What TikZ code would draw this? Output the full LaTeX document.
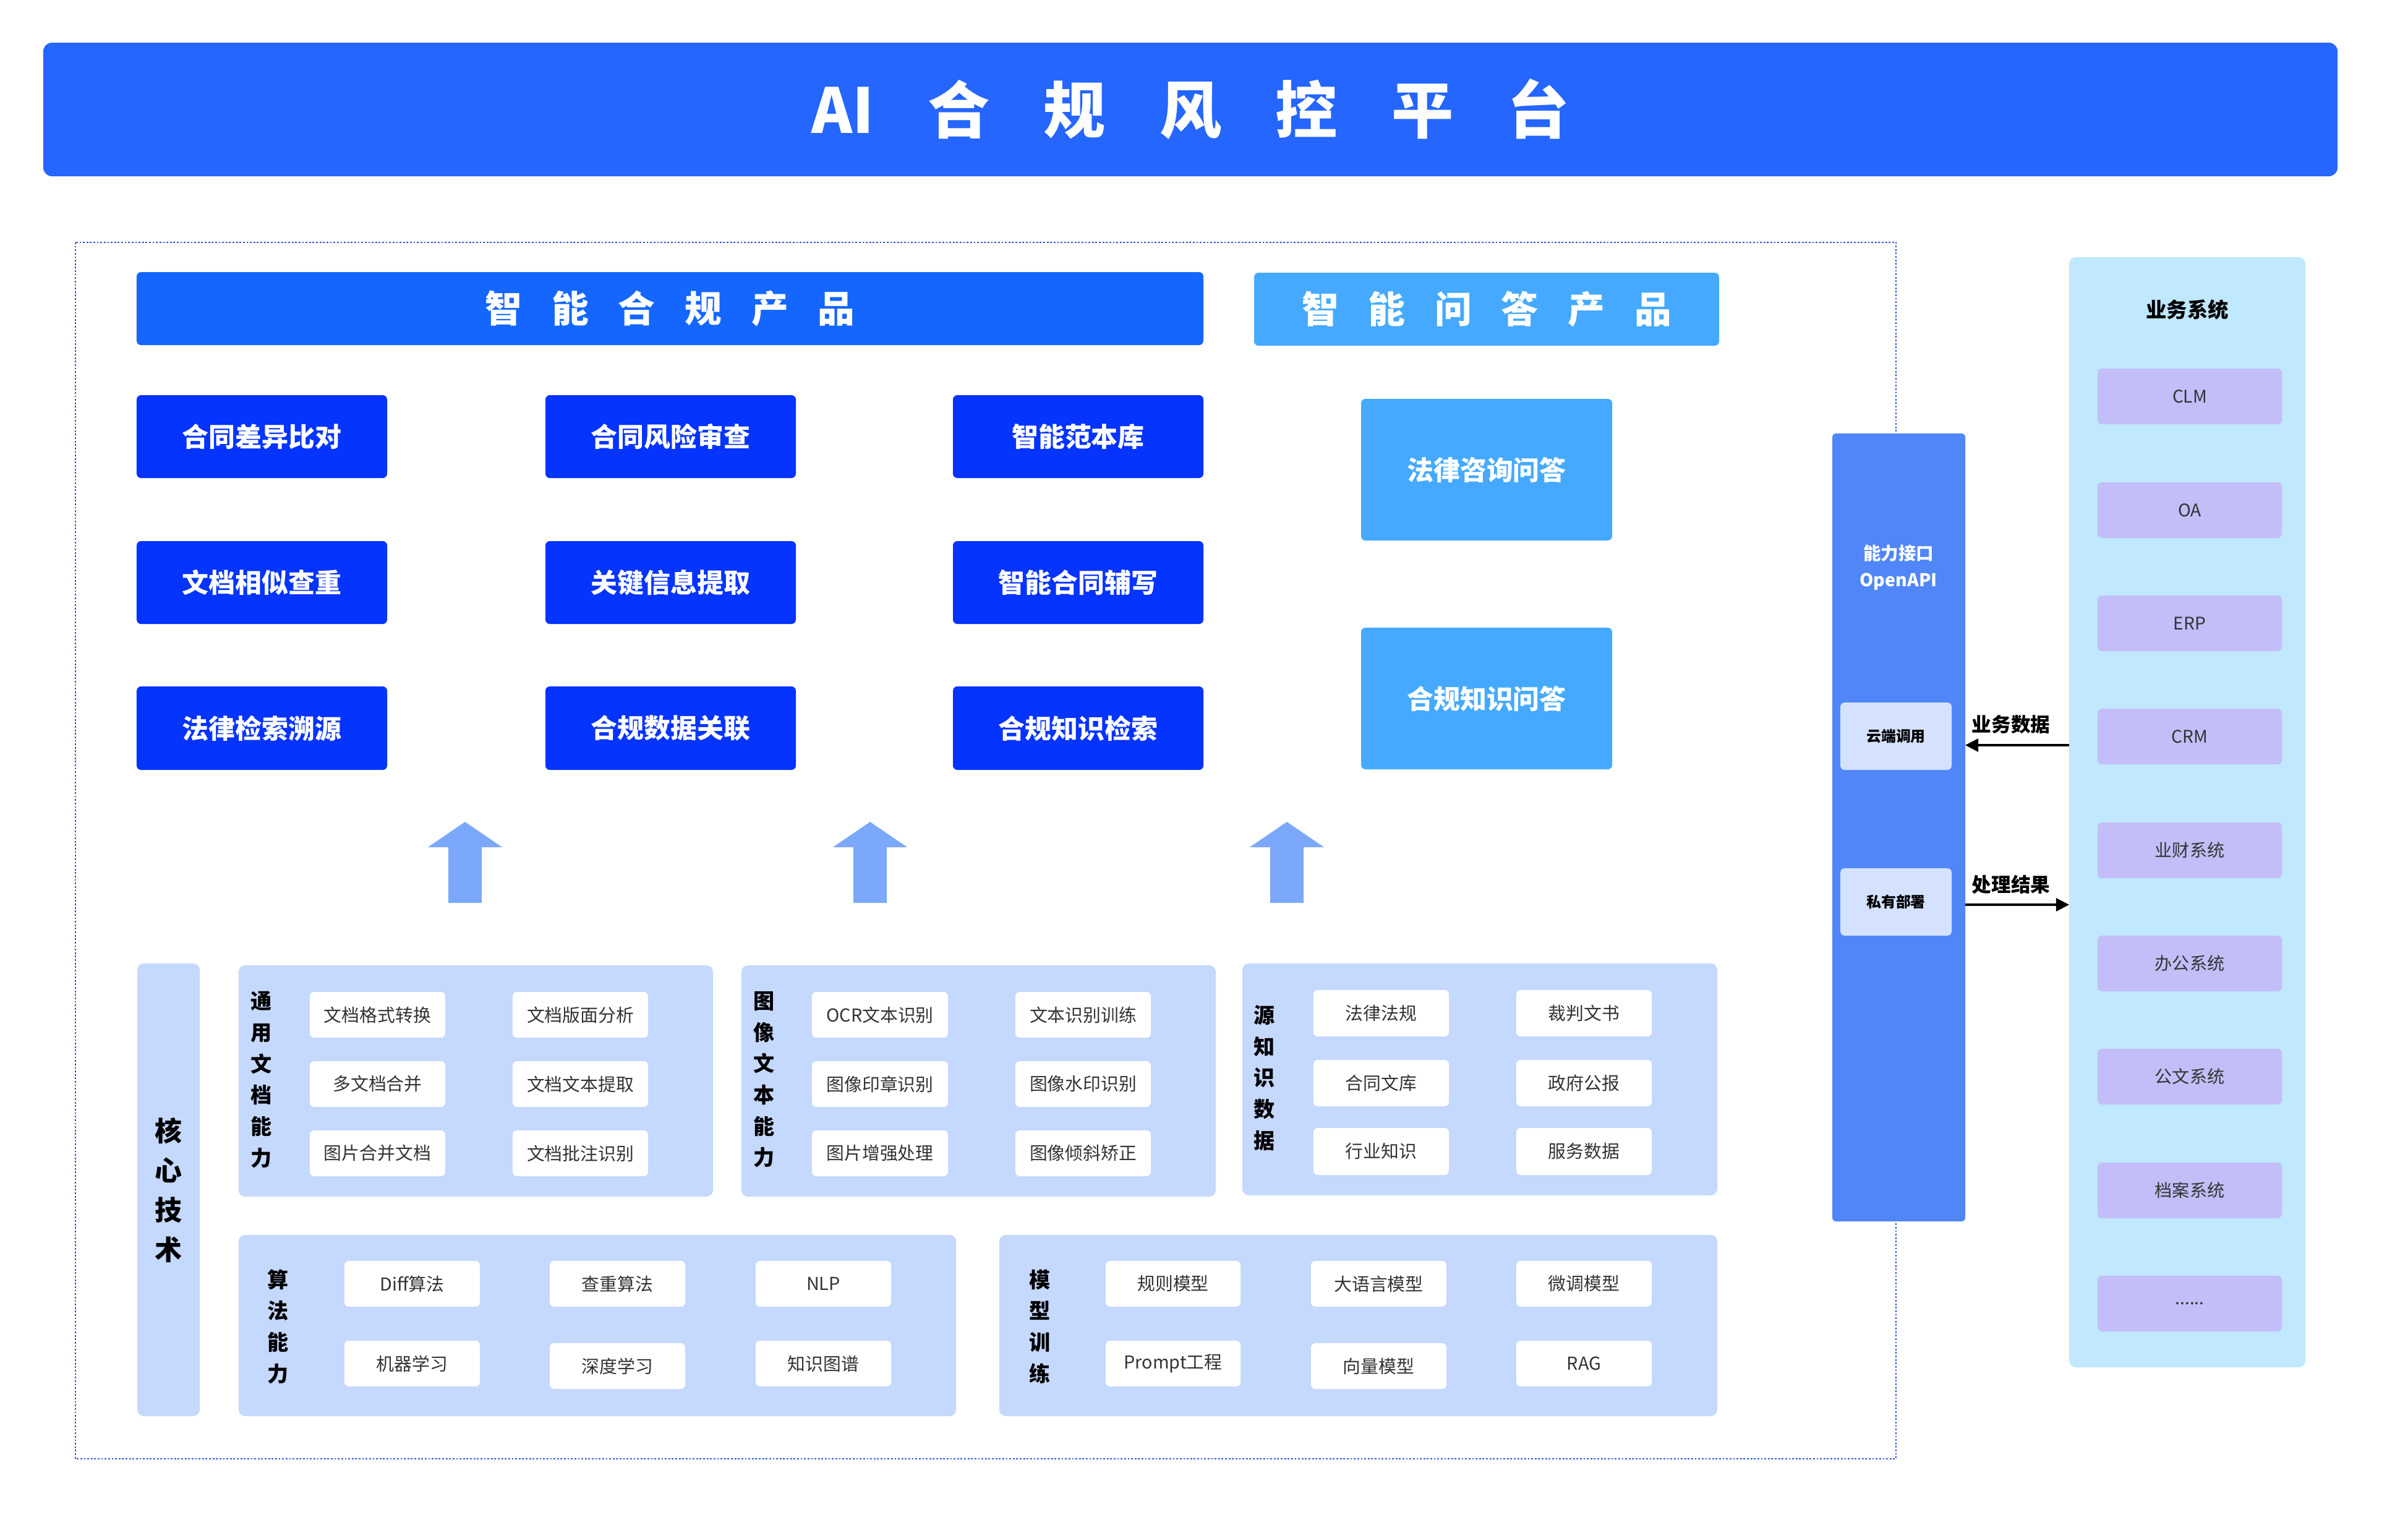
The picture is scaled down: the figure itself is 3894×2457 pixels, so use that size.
\documentclass[tikz,border=0pt]{standalone}
\usepackage{fontspec}
\setmainfont{Noto Sans CJK SC}
\usetikzlibrary{arrows.meta}
\definecolor{titleblue}{HTML}{2466FF}
\definecolor{subblue}{HTML}{1466FF}
\definecolor{prodblue}{HTML}{0533FF}
\definecolor{qablue}{HTML}{45AAFF}
\definecolor{apiblue}{HTML}{5086F7}
\definecolor{apibox}{HTML}{D4E2FF}
\definecolor{bizbg}{HTML}{C0E8FF}
\definecolor{bizitem}{HTML}{C3BEF8}
\definecolor{corebg}{HTML}{C5D8FE}
\definecolor{uparrow}{HTML}{7BA8FA}
\definecolor{dotblue}{HTML}{3355DD}
\definecolor{txtgray}{HTML}{333333}
\newcommand\bx[7]{%
  \pgfmathsetmacro\myW{(#4-#2)*0.01}%
  \pgfmathsetmacro\myH{(#5-#3)*0.01}%
  \node[#6, minimum width=\myW cm, minimum height=\myH cm, inner sep=0pt, outer sep=0pt] (#1) at ({(#2+#4)/2},{(#3+#5)/2}) {#7};}
\newcommand\uparr[1]{%
  \fill[uparrow] (#1-27,1460) -- (#1-27,1370) -- (#1-60,1370) -- (#1,1329) -- (#1+60,1370) -- (#1+27,1370) -- (#1+27,1460) -- cycle;}
\newcommand\tg{\hspace{0.87em}}
\newcommand\sg{\hspace{0.8em}}
\begin{document}
\begin{tikzpicture}[x=0.01cm,y=-0.01cm,
  titlebar/.style={fill=titleblue, rounded corners=4pt, text=white, font=\bfseries\fontsize{28.5}{30}\selectfont},
  subbar/.style={fill=#1, rounded corners=2pt, text=white, font=\bfseries\fontsize{17}{20}\selectfont},
  prodbox/.style={fill=#1, rounded corners=2pt, text=white, font=\bfseries\fontsize{12.2}{14}\selectfont},
  panel/.style={fill=corebg, rounded corners=3pt},
  vlabel/.style={align=center, text=black, font=\bfseries\fontsize{9.7}{14.4}\selectfont},
  itembox/.style={fill=white, rounded corners=2pt, text=txtgray, font=\fontsize{8.2}{10}\selectfont},
  bizbox/.style={fill=bizitem, rounded corners=2pt, text=txtgray, font=\fontsize{8}{10}\selectfont},
  apismall/.style={fill=apibox, rounded corners=2pt, text=black, font=\bfseries\fontsize{6.8}{8}\selectfont},
  flowarrow/.style={-{Triangle[length=6pt,width=6pt]}, line width=0.9pt, black},
  flowlabel/.style={text=black, font=\bfseries\fontsize{9}{10}\selectfont}
]
\fill[white] (0,0) rectangle (3894,2457);
\useasboundingbox (0,0) rectangle (3894,2457);

% title
\bx{title}{70}{69}{3780}{285}{titlebar}{AI\tg 合\tg 规\tg 风\tg 控\tg 平\tg 台}

% outer dotted frame
\draw[dotblue, line width=0.7pt, dash pattern=on 0.8pt off 0.8pt] (122,392) rectangle (3066,2359);

% product bars
\bx{prodbar}{221}{440}{1946}{558}{subbar=subblue}{智\sg 能\sg 合\sg 规\sg 产\sg 品}
\bx{qabar}{2028}{441}{2780}{559}{subbar=qablue}{智\sg 能\sg 问\sg 答\sg 产\sg 品}

% product boxes
\bx{p11}{221}{639}{626}{773}{prodbox=prodblue}{合同差异比对}
\bx{p12}{882}{639}{1287}{773}{prodbox=prodblue}{合同风险审查}
\bx{p13}{1541}{639}{1946}{773}{prodbox=prodblue}{智能范本库}
\bx{p21}{221}{875}{626}{1009}{prodbox=prodblue}{文档相似查重}
\bx{p22}{882}{875}{1287}{1009}{prodbox=prodblue}{关键信息提取}
\bx{p23}{1541}{875}{1946}{1009}{prodbox=prodblue}{智能合同辅写}
\bx{p31}{221}{1110}{626}{1245}{prodbox=prodblue}{法律检索溯源}
\bx{p32}{882}{1110}{1287}{1245}{prodbox=prodblue}{合规数据关联}
\bx{p33}{1541}{1110}{1946}{1245}{prodbox=prodblue}{合规知识检索}

\bx{qa1}{2201}{645}{2607}{874}{prodbox=qablue}{法律咨询问答}
\bx{qa2}{2201}{1015}{2607}{1244}{prodbox=qablue}{合规知识问答}

% up arrows
\uparr{752}
\uparr{1407}
\uparr{2081}

% core technology
\bx{core}{222}{1558}{323}{2290}{panel}{}
\node[vlabel, font=\bfseries\fontsize{12.5}{18.2}\selectfont] (corelbl) at (272,1925) {核\\心\\技\\术};

\bx{gen}{386}{1561}{1153}{1935}{panel}{}
\node[vlabel] (genlbl) at (423,1746) {通\\用\\文\\档\\能\\力};
\bx{g11}{501}{1604}{720}{1678}{itembox}{文档格式转换}
\bx{g12}{829}{1604}{1048}{1678}{itembox}{文档版面分析}
\bx{g21}{501}{1716}{720}{1790}{itembox}{多文档合并}
\bx{g22}{829}{1716}{1048}{1790}{itembox}{文档文本提取}
\bx{g31}{501}{1828}{720}{1902}{itembox}{图片合并文档}
\bx{g32}{829}{1828}{1048}{1902}{itembox}{文档批注识别}

\bx{img}{1199}{1561}{1966}{1935}{panel}{}
\node[vlabel] (imglbl) at (1236,1746) {图\\像\\文\\本\\能\\力};
\bx{i11}{1313}{1604}{1533}{1678}{itembox}{OCR文本识别}
\bx{i12}{1642}{1604}{1861}{1678}{itembox}{文本识别训练}
\bx{i21}{1313}{1716}{1533}{1790}{itembox}{图像印章识别}
\bx{i22}{1642}{1716}{1861}{1790}{itembox}{图像水印识别}
\bx{i31}{1313}{1828}{1533}{1902}{itembox}{图片增强处理}
\bx{i32}{1642}{1828}{1861}{1902}{itembox}{图像倾斜矫正}

\bx{src}{2009}{1558}{2777}{1933}{panel}{}
\node[vlabel] (srclbl) at (2045,1743) {源\\知\\识\\数\\据};
\bx{s11}{2124}{1601}{2343}{1676}{itembox}{法律法规}
\bx{s12}{2452}{1601}{2671}{1676}{itembox}{裁判文书}
\bx{s21}{2124}{1714}{2343}{1789}{itembox}{合同文库}
\bx{s22}{2452}{1714}{2671}{1789}{itembox}{政府公报}
\bx{s31}{2124}{1824}{2343}{1900}{itembox}{行业知识}
\bx{s32}{2452}{1824}{2671}{1900}{itembox}{服务数据}

\bx{alg}{386}{1997}{1546}{2290}{panel}{}
\node[vlabel] (alglbl) at (450,2145) {算\\法\\能\\力};
\bx{a11}{557}{2039}{776}{2113}{itembox}{Diff算法}
\bx{a12}{889}{2039}{1108}{2113}{itembox}{查重算法}
\bx{a13}{1222}{2039}{1441}{2113}{itembox}{NLP}
\bx{a21}{557}{2168}{776}{2242}{itembox}{机器学习}
\bx{a22}{889}{2172}{1108}{2246}{itembox}{深度学习}
\bx{a23}{1222}{2168}{1441}{2242}{itembox}{知识图谱}

\bx{mdl}{1616}{1997}{2777}{2290}{panel}{}
\node[vlabel] (mdllbl) at (1682,2145) {模\\型\\训\\练};
\bx{m11}{1788}{2039}{2006}{2113}{itembox}{规则模型}
\bx{m12}{2120}{2039}{2339}{2113}{itembox}{大语言模型}
\bx{m13}{2452}{2039}{2671}{2113}{itembox}{微调模型}
\bx{m21}{1788}{2168}{2006}{2242}{itembox}{Prompt工程}
\bx{m22}{2120}{2172}{2339}{2246}{itembox}{向量模型}
\bx{m23}{2452}{2168}{2671}{2242}{itembox}{RAG}

% OpenAPI column
\bx{api}{2963}{701}{3178}{1975}{fill=apiblue, rounded corners=1.5pt}{}
\node[align=center, text=white, font=\bfseries\fontsize{8.1}{12.2}\selectfont] (apilbl) at (3070,918) {能力接口\\OpenAPI};
\bx{yun}{2976}{1136}{3156}{1245}{apismall}{云端调用}
\bx{priv}{2976}{1404}{3156}{1513}{apismall}{私有部署}

% business systems
\bx{biz}{3346}{416}{3728}{2211}{fill=bizbg, rounded corners=3pt}{}
\node[text=black, font=\bfseries\fontsize{9.5}{11}\selectfont] (bizlbl) at (3537,501) {业务系统};
\bx{b1}{3392}{596}{3690}{686}{bizbox}{CLM}
\bx{b2}{3392}{780}{3690}{870}{bizbox}{OA}
\bx{b3}{3392}{963}{3690}{1053}{bizbox}{ERP}
\bx{b4}{3392}{1146}{3690}{1236}{bizbox}{CRM}
\bx{b5}{3392}{1330}{3690}{1420}{bizbox}{业财系统}
\bx{b6}{3392}{1513}{3690}{1603}{bizbox}{办公系统}
\bx{b7}{3392}{1696}{3690}{1786}{bizbox}{公文系统}
\bx{b8}{3392}{1880}{3690}{1970}{bizbox}{档案系统}
\bx{b9}{3392}{2063}{3690}{2153}{bizbox}{......}

% data flow arrows
\coordinate (fa) at (3250,1205);
\coordinate (fb) at (3250,1463);
\draw[flowarrow] (biz.west |- fa) -- (api.east |- fa);
\draw[flowarrow] (api.east |- fb) -- (biz.west |- fb);
\node[flowlabel] (fal) at (3252,1172) {业务数据};
\node[flowlabel] (fbl) at (3252,1430) {处理结果};
\end{tikzpicture}
\end{document}
